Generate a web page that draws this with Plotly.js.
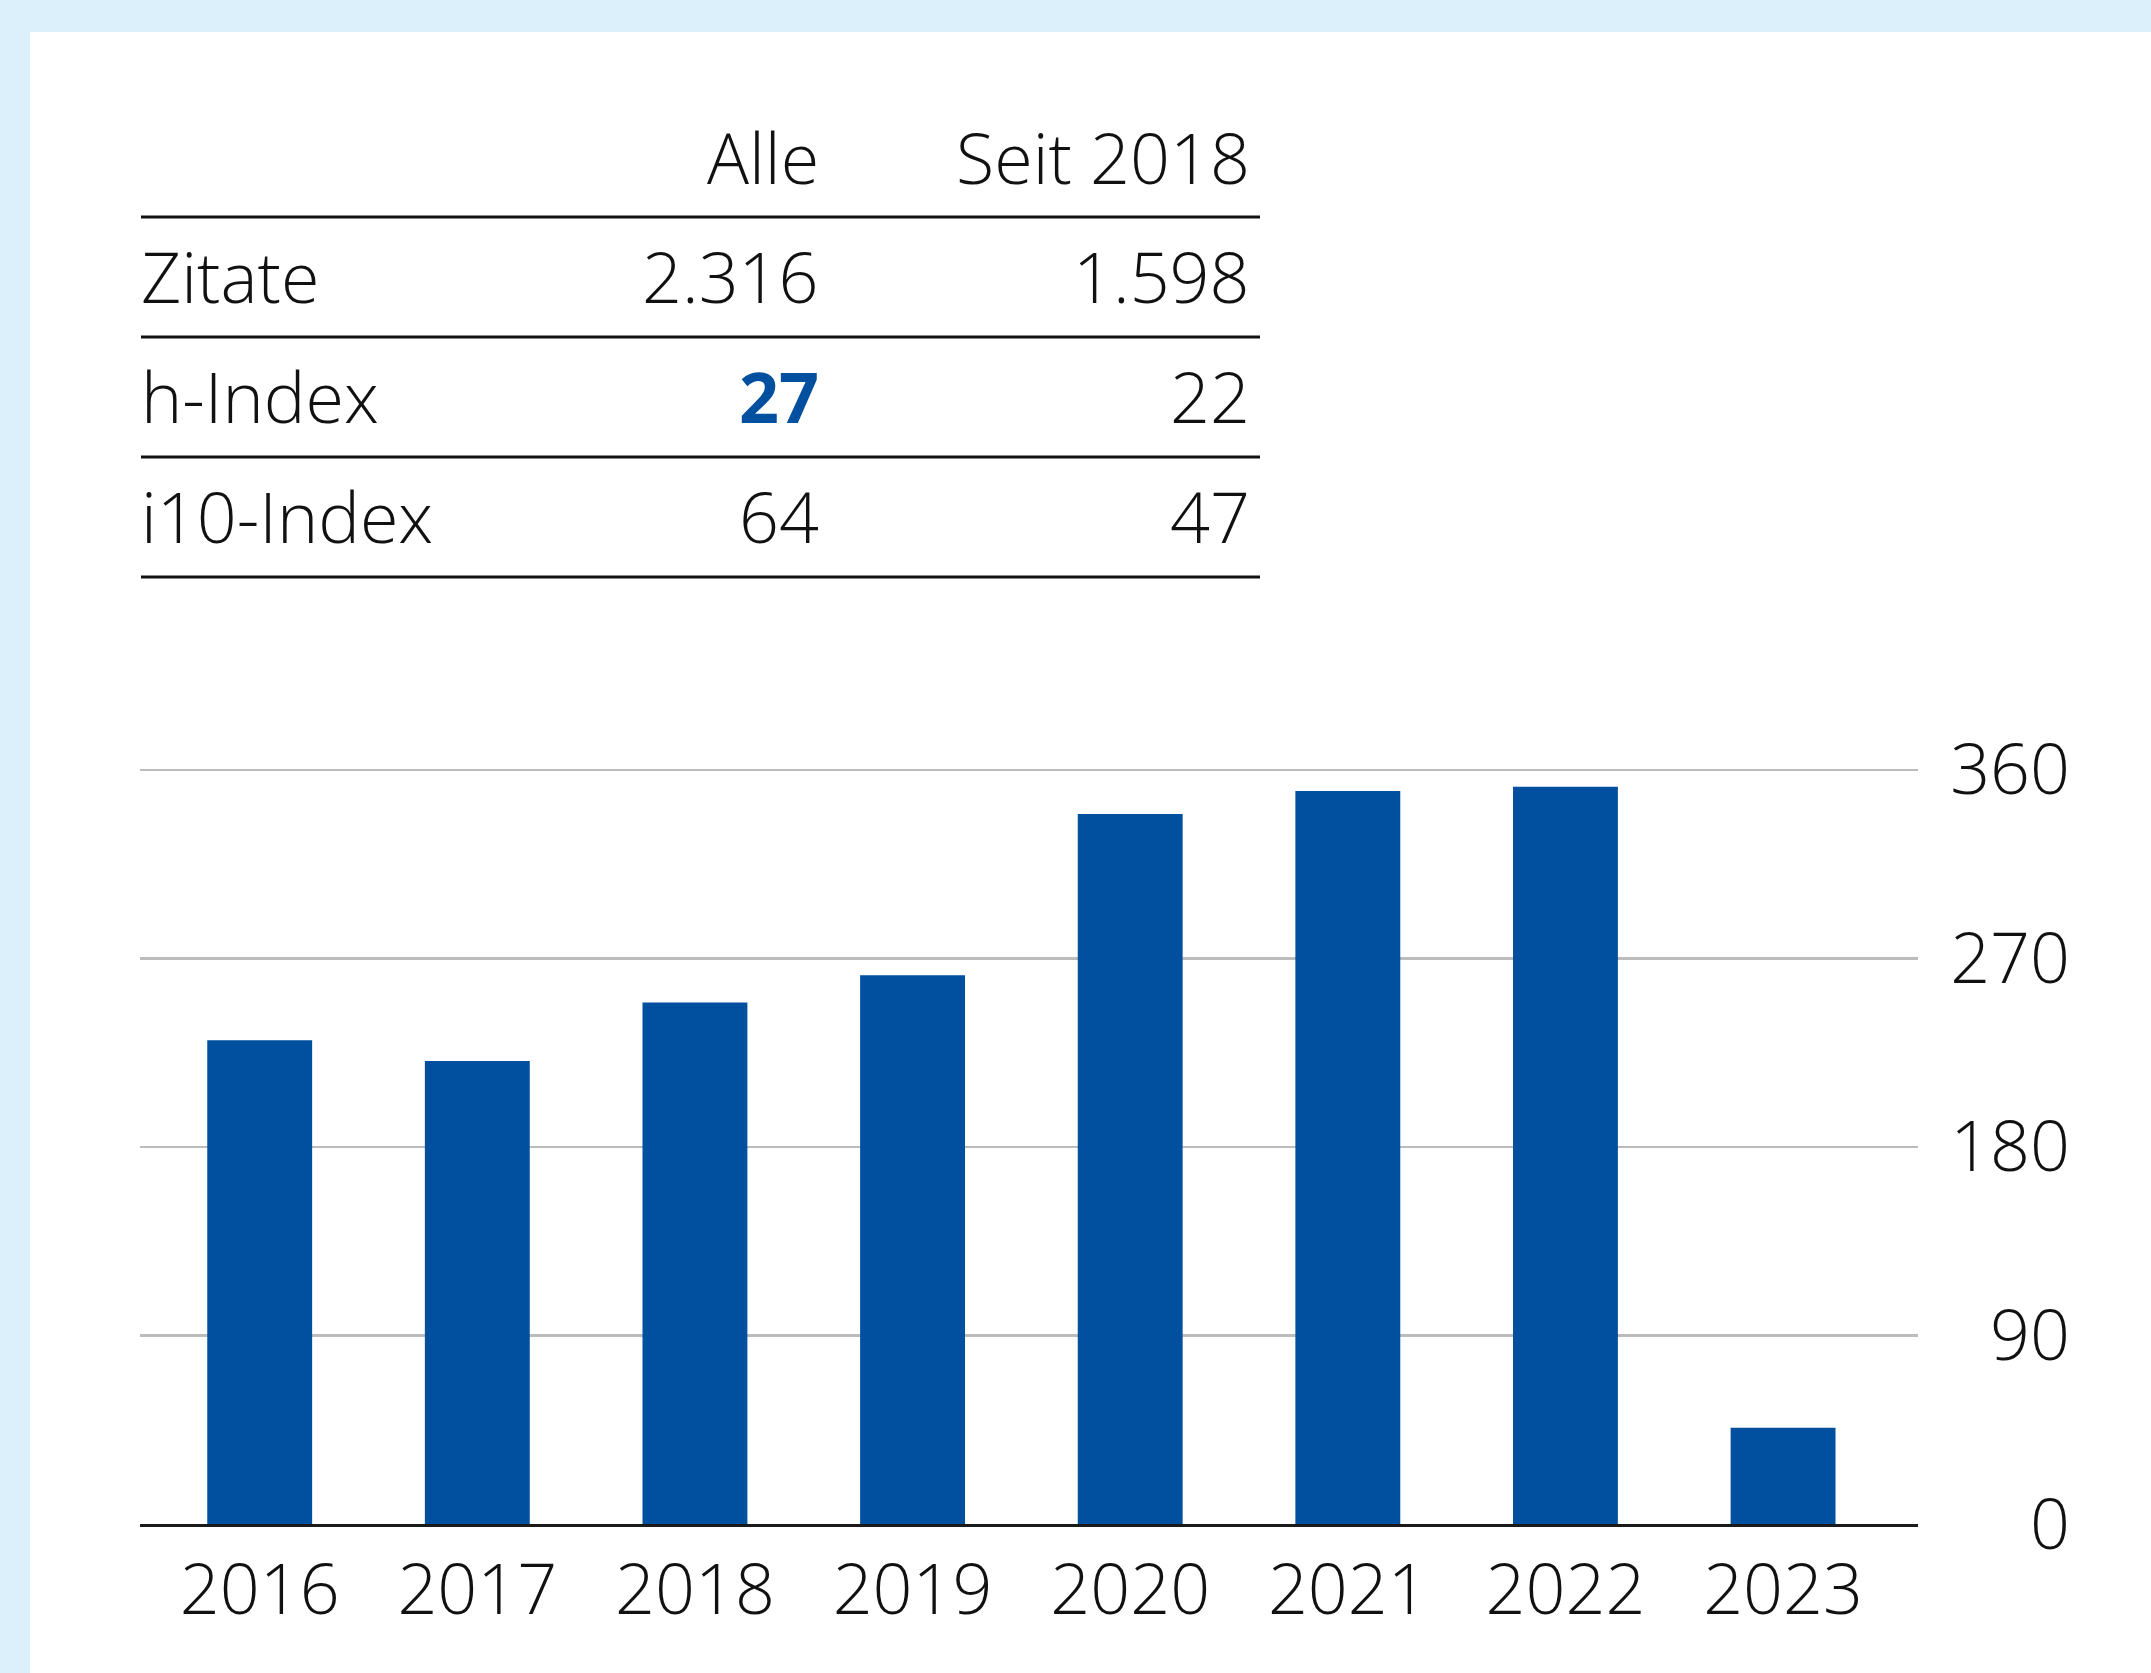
<!DOCTYPE html>
<html>
<head>
<meta charset="utf-8">
<script src="https://cdn.plot.ly/plotly-3.0.1.min.js"></script>
<style>
html,body{margin:0;padding:0;background:#dcf0fb;width:2151px;height:1673px;overflow:hidden}
#chart{position:absolute;left:30px;top:32px;width:2121px;height:1641px;background:#ffffff}
</style>
</head>
<body>
<div id="chart"></div>
<script>
// ---- data ----
const years = ["2016", "2017", "2018", "2019", "2020", "2021", "2022", "2023"];
const citations = [231, 221, 249, 262, 339, 350, 352, 46];
const yTickValues = [0, 90, 180, 270, 360];
const tableHeaders = ["Alle", "Seit 2018"];
const rowLabels = ["Zitate", "h-Index", "i10-Index"];
const valuesAll = ["2.316", "27", "64"];
const valuesSince2018 = ["1.598", "22", "47"];
const highlightCell = {row: 1, col: 0};

// ---- geometry (pixels inside the chart div) ----
const W = 2121, H = 1641;
const M = {l: 110, r: 60, t: 734, b: 149};
const paperW = W - M.l - M.r;
const paperH = H - M.t - M.b;
const plotRight = 1888;
const px = X => (X - M.l) / paperW;
const py = Y => (H - M.b - Y) / paperH;

const FONT = "Open Sans, Lato, sans-serif";
const FS = 70;
const FW = 350;
const BLUE = "#01509f";

// table layout
const labelX = 109, colRight = [791, 1222], lineX0 = 111, lineX1 = 1230;
const headerMid = 125, rowMid = [244, 364, 484];
const lineY = [185, 305, 425, 545];

const annotations = [];
tableHeaders.forEach((h, c) => annotations.push({
  text: h, xref: "paper", yref: "paper", x: px(colRight[c]), y: py(headerMid),
  xanchor: "right", yanchor: "middle", showarrow: false,
  font: {family: FONT, size: FS, color: "#111", weight: FW}
}));
rowLabels.forEach((lab, r) => {
  annotations.push({
    text: lab, xref: "paper", yref: "paper", x: px(labelX), y: py(rowMid[r]),
    xanchor: "left", yanchor: "middle", showarrow: false,
    font: {family: FONT, size: FS, color: "#111", weight: FW}
  });
  [valuesAll[r], valuesSince2018[r]].forEach((v, c) => {
    const hl = (r === highlightCell.row && c === highlightCell.col);
    annotations.push({
      text: v, xref: "paper", yref: "paper", x: px(colRight[c]), y: py(rowMid[r]),
      xanchor: "right", yanchor: "middle", showarrow: false,
      font: {family: FONT, size: FS, color: hl ? BLUE : "#111", weight: hl ? 700 : FW}
    });
  });
});

const shapes = lineY.map(Y => ({
  type: "line", xref: "paper", yref: "paper",
  x0: px(lineX0), x1: px(lineX1), y0: py(Y), y1: py(Y),
  line: {color: "#111111", width: 3}
}));

const trace = {
  type: "bar", x: years, y: citations,
  marker: {color: BLUE, line: {width: 0}},
  hoverinfo: "skip"
};

const layout = {
  width: W, height: H,
  margin: {l: M.l, r: M.r, t: M.t, b: M.b, pad: 0},
  paper_bgcolor: "rgba(0,0,0,0)", plot_bgcolor: "rgba(0,0,0,0)",
  showlegend: false,
  bargap: 0.518,
  font: {family: FONT, size: FS, color: "#111", weight: FW},
  xaxis: {
    type: "category", domain: [0, px(plotRight)], range: [-0.55, 7.62],
    showline: true, linecolor: "#1a1a1a", linewidth: 3, layer: "below traces",
    ticks: "", showgrid: false, zeroline: false, fixedrange: true,
    tickfont: {family: FONT, size: FS, color: "#111", weight: FW},
    ticklabelstandoff: 3
  },
  yaxis: {
    range: [0, 361.9], side: "left", anchor: "free", position: px(2040),
    tickmode: "array", tickvals: yTickValues,
    showgrid: true, gridcolor: "#bcbcbc", gridwidth: 2.5,
    zeroline: false, showline: false, ticks: "", fixedrange: true,
    tickfont: {family: FONT, size: FS, color: "#111", weight: FW}
  },
  annotations: annotations,
  shapes: shapes
};

Plotly.newPlot("chart", [trace], layout, {staticPlot: true, displayModeBar: false});
</script>
</body>
</html>
